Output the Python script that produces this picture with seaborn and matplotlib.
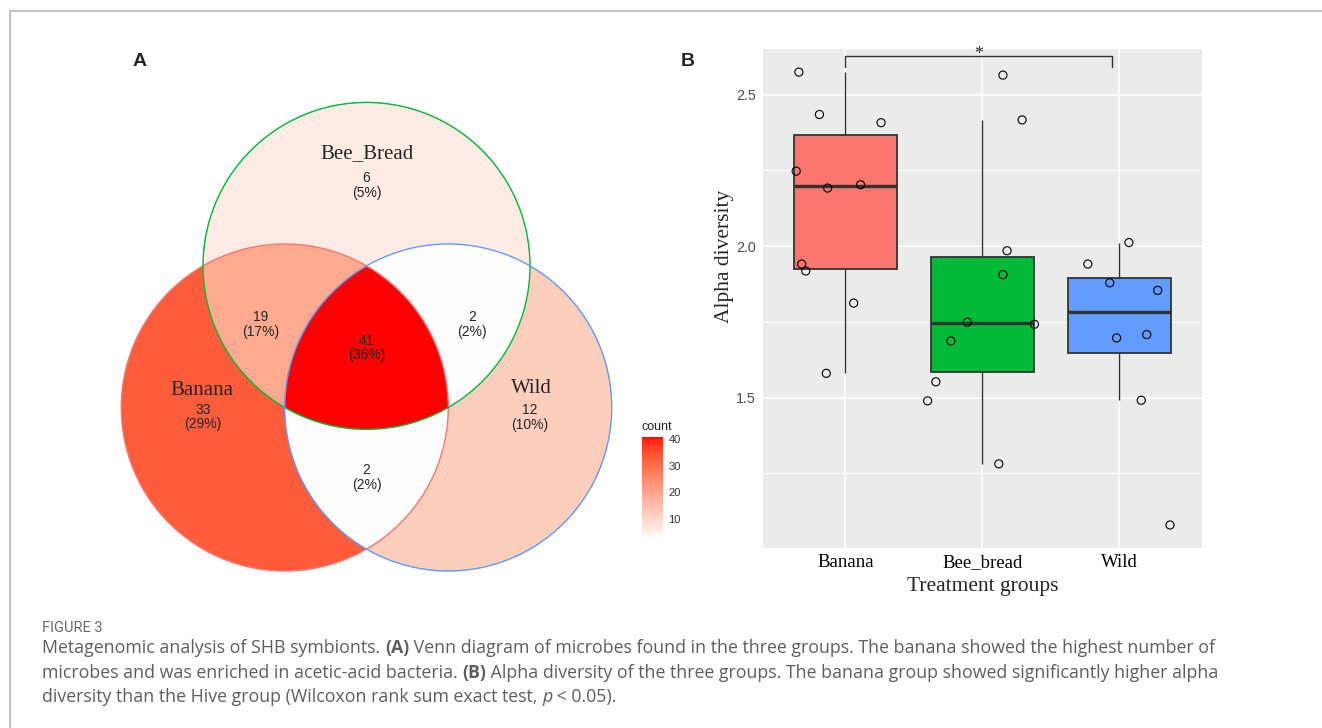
import numpy as np
import pandas as pd
import matplotlib
matplotlib.use("Agg")
import matplotlib.pyplot as plt
from matplotlib.colors import ListedColormap
from matplotlib.patches import Circle
from matplotlib.lines import Line2D
import seaborn as sns

# ---------------- data ----------------
# panel A: venn diagram of microbes found in each group
venn_sets = ["Banana", "Bee_Bread", "Wild"]
venn_regions = [
    ("Banana",), ("Bee_Bread",), ("Wild",),
    ("Banana", "Bee_Bread"), ("Bee_Bread", "Wild"), ("Banana", "Wild"),
    ("Banana", "Bee_Bread", "Wild"),
]
venn_counts = [33, 6, 12, 19, 2, 2, 41]
cbar_ticks = [10, 20, 30, 40]

# panel B: alpha diversity per sample (jitter = horizontal offset)
groups = ["Banana", "Bee_bread", "Wild"]
banana_alpha = [2.575, 2.435, 2.408, 2.248, 2.192, 2.203, 1.941, 1.918, 1.812, 1.580]
banana_jitter = [-0.34, -0.19, 0.26, -0.36, -0.13, 0.11, -0.32, -0.29, 0.06, -0.14]
beebread_alpha = [2.565, 2.417, 1.985, 1.906, 1.749, 1.742, 1.687, 1.552, 1.489, 1.281]
beebread_jitter = [0.15, 0.29, 0.18, 0.15, -0.11, 0.38, -0.23, -0.34, -0.40, 0.12]
wild_alpha = [2.012, 1.941, 1.879, 1.854, 1.697, 1.708, 1.491, 1.079]
wild_jitter = [0.07, -0.23, -0.07, 0.28, -0.02, 0.20, 0.16, 0.37]
yticks = [1.5, 2.0, 2.5]

group_colors = ["#F8766D", "#00BA38", "#619CFF"]


def white_red_lab(n=256):
    # ggplot-like white -> red gradient, interpolated in CIE Lab
    t = np.linspace(0, 1, n)
    L = 100 + t * (53.2408 - 100)
    a = t * 80.0925
    b = t * 67.2032
    fy = (L + 16) / 116
    fx = fy + a / 500
    fz = fy - b / 200

    def finv(f):
        return np.where(f > 6 / 29, f ** 3, 3 * (6 / 29) ** 2 * (f - 4 / 29))

    xyz = np.vstack([0.95047 * finv(fx), finv(fy), 1.08883 * finv(fz)])
    m = np.array([[3.2406, -1.5372, -0.4986],
                  [-0.9689, 1.8758, 0.0415],
                  [0.0557, -0.2040, 1.0570]])
    lin = np.clip(m @ xyz, 0, 1)
    srgb = np.where(lin <= 0.0031308, 12.92 * lin, 1.055 * lin ** (1 / 2.4) - 0.055)
    return ListedColormap(np.clip(srgb.T, 0, 1))


sns.set_style("darkgrid", {"axes.facecolor": "#EBEBEB", "grid.color": "white"})
plt.rcParams["font.family"] = ["Liberation Sans", "DejaVu Sans"]

W, H = 1322, 728
fig = plt.figure(figsize=(W / 100, H / 100), dpi=100)


def px_axes(left, top, right, bottom):
    return fig.add_axes([left / W, 1 - bottom / H, (right - left) / W, (bottom - top) / H])


# ---------------- panel A ----------------
axA = px_axes(90, 80, 640, 600)
unit = 163.5
ox, oy = 366.5, 407.5
xlim = ((90 - ox) / unit, (640 - ox) / unit)
ylim = ((oy - 600) / unit, (oy - 80) / unit)
centers = {"Banana": (-0.5, 0.0), "Bee_Bread": (0.0, np.sqrt(3) / 2), "Wild": (0.5, 0.0)}

gx = np.linspace(xlim[0], xlim[1], 1400)
gy = np.linspace(ylim[0], ylim[1], 1320)
X, Y = np.meshgrid(gx, gy)
inside = {s: (X - cx) ** 2 + (Y - cy) ** 2 <= 1 for s, (cx, cy) in centers.items()}
Z = np.full(X.shape, np.nan)
for members, count in zip(venn_regions, venn_counts):
    mask = np.ones(X.shape, bool)
    for s in venn_sets:
        mask &= inside[s] if s in members else ~inside[s]
    Z[mask] = count

cmap = white_red_lab()
im = axA.imshow(Z, origin="lower", extent=(*xlim, *ylim), cmap=cmap,
                vmin=min(venn_counts), vmax=max(venn_counts), aspect="auto")
for s, col in zip(venn_sets, group_colors):
    axA.add_patch(Circle(centers[s], 1, fill=False, ec=col, lw=1.0))
axA.set_xlim(xlim)
axA.set_ylim(ylim)
axA.axis("off")

set_label_xy = {"Banana": (-1.006, 0.107), "Bee_Bread": (0.0, 1.55), "Wild": (1.006, 0.119)}
count_xy = [(-1.0, -0.058), (0.0, 1.358), (1.0, -0.061), (-0.645, 0.508),
            (0.645, 0.508), (0.0, -0.428), (0.0, 0.364)]
total = sum(venn_counts)
for s in venn_sets:
    axA.text(*set_label_xy[s], s, ha="center", va="center", fontsize=15,
             family="Liberation Serif")
for (tx, ty), c in zip(count_xy, venn_counts):
    axA.text(tx, ty, f"{c}\n({round(100 * c / total)}%)", ha="center", va="center",
             fontsize=10, linespacing=1.05)

cax = px_axes(641.7, 436.5, 662.7, 540.3)
cb = fig.colorbar(im, cax=cax, ticks=cbar_ticks)
cb.outline.set_visible(False)
cax.yaxis.set_ticks_position("both")
cax.tick_params(direction="in", color="white", length=4, width=0.8, labelsize=8,
                labelcolor="#333333", pad=4, labelleft=False, labelright=True)
cax.set_title("count", loc="left", fontsize=9, pad=5)

fig.text(140 / W, 1 - 62 / H, "A", fontsize=14, weight="bold", ha="center", va="center")
fig.text(688 / W, 1 - 62 / H, "B", fontsize=14, weight="bold", ha="center", va="center")

# ---------------- panel B ----------------
axB = px_axes(763.3, 48.5, 1201.5, 548.3)
df = pd.DataFrame({
    "group": [groups[0]] * len(banana_alpha) + [groups[1]] * len(beebread_alpha)
    + [groups[2]] * len(wild_alpha),
    "alpha": banana_alpha + beebread_alpha + wild_alpha,
    "jitter": banana_jitter + beebread_jitter + wild_jitter,
})
df["pos"] = df["group"].map({g: i for i, g in enumerate(groups)})

sns.boxplot(data=df, x="pos", y="alpha", hue="group", hue_order=groups,
            palette=group_colors, saturation=1, native_scale=True, orient="x",
            width=0.75, showfliers=False, linecolor="#333333", linewidth=1.3,
            medianprops={"linewidth": 2.4}, whiskerprops={"linewidth": 1.0},
            capprops={"visible": False}, legend=False, ax=axB)
sns.scatterplot(x=df["pos"] + df["jitter"], y=df["alpha"], s=34, facecolor="none",
                edgecolor="black", linewidth=0.8, zorder=4, legend=False, ax=axB)

# significance bracket Banana vs Wild
br_y, br_tip = 2.628, 2.592
axB.plot([0, 0, 1.95, 1.95], [br_tip, br_y, br_y, br_tip], color="#333333", lw=1.0,
         clip_on=False, zorder=5)
axB.text(0.975, 2.632, "*", ha="center", va="center", fontsize=13,
         family="Liberation Serif", clip_on=False)

axB.set_xlim(-0.6, 2.6)
axB.set_ylim(1.002, 2.653)
axB.set_xticks(range(len(groups)), groups, fontsize=13.5, family="Liberation Serif")
axB.set_yticks(yticks, [f"{v:.1f}" for v in yticks])
axB.set_yticks([1.25, 1.75, 2.25], minor=True)
axB.grid(which="major", color="white", lw=1.1)
axB.grid(which="minor", axis="y", color="white", lw=0.55)
axB.set_axisbelow(True)
axB.tick_params(axis="y", which="major", length=3.5, width=0.9, color="#333333",
                labelsize=10.3, labelcolor="#4D4D4D", pad=2)
axB.tick_params(axis="y", which="minor", length=0)
axB.tick_params(axis="x", length=3.5, width=0.9, color="#333333", pad=10,
                labelcolor="black")
for lab in axB.get_xticklabels():
    lab.set_verticalalignment("baseline")
for sp in axB.spines.values():
    sp.set_visible(False)
axB.set_xlabel("Treatment groups", fontsize=15.5, family="Liberation Serif")
axB.set_ylabel("Alpha diversity", fontsize=15.5, family="Liberation Serif")
axB.xaxis.set_label_coords(0.5, -0.058)
axB.yaxis.set_label_coords(-0.067, 0.585)

# ---------------- frame + caption ----------------
fig.add_artist(Line2D([10 / W, 1], [1 - 11 / H] * 2, transform=fig.transFigure,
                      color="#BDBDBD", lw=1.3))
fig.add_artist(Line2D([10 / W] * 2, [0, 1 - 11 / H], transform=fig.transFigure,
                      color="#BDBDBD", lw=1.3))

cap_font = dict(family=["Open Sans", "DejaVu Sans"], fontsize=12.8, color="#5E5E5E")
renderer = fig.canvas.get_renderer()


def text_width(s, **kw):
    t1 = fig.text(0, 0, "|" + s + "|", **kw)
    t2 = fig.text(0, 0, "||", **kw)
    w = t1.get_window_extent(renderer).width - t2.get_window_extent(renderer).width
    t1.remove()
    t2.remove()
    return w


def rich_line(x, y, parts):
    for s, style in parts:
        kw = {**cap_font, **style}
        fig.text(x / W, 1 - y / H, s, ha="left", va="center", **kw)
        x += text_width(s, **kw)


fig.text(42 / W, 1 - 628 / H, "FIGURE 3", family=["Roboto", "DejaVu Sans"],
         fontsize=10.5, color="#6A6A6A", va="center")
bold = {"weight": "bold"}
rich_line(42, 648, [("Metagenomic analysis of SHB symbionts. ", {}), ("(A)", bold),
                    (" Venn diagram of microbes found in the three groups. The banana "
                     "showed the highest number of", {})])
rich_line(42, 673, [("microbes and was enriched in acetic-acid bacteria. ", {}), ("(B)", bold),
                    (" Alpha diversity of the three groups. The banana group showed "
                     "significantly higher alpha", {})])
rich_line(42, 697, [("diversity than the Hive group (Wilcoxon rank sum exact test, ", {}),
                    ("p", {"style": "italic"}), (" < 0.05).", {})])

fig.savefig("out.png", dpi=100)
